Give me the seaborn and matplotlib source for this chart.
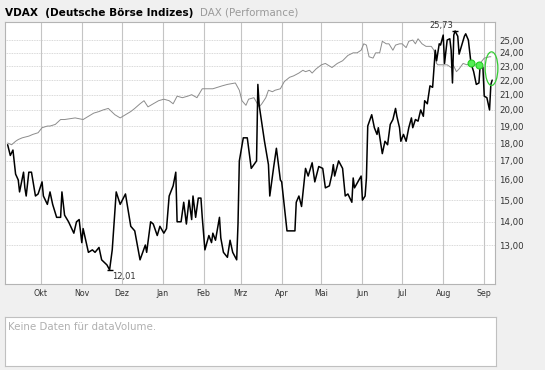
import pandas as pd
import seaborn as sns
import matplotlib.pyplot as plt
import matplotlib.dates as mdates
from matplotlib.patches import Ellipse

# VDAX Schlusskurse
vdax_dates = ['2013-09-06', '2013-09-08', '2013-09-10', '2013-09-12', '2013-09-14', '2013-09-15',
              '2013-09-18', '2013-09-19', '2013-09-20', '2013-09-22', '2013-09-24', '2013-09-27',
              '2013-09-29', '2013-10-02', '2013-10-03', '2013-10-06', '2013-10-08', '2013-10-10',
              '2013-10-13', '2013-10-16', '2013-10-17', '2013-10-19', '2013-10-22', '2013-10-26',
              '2013-10-28', '2013-10-30', '2013-11-01', '2013-11-02', '2013-11-06', '2013-11-09',
              '2013-11-11', '2013-11-14', '2013-11-16', '2013-11-20', '2013-11-22', '2013-11-24',
              '2013-11-27', '2013-11-30', '2013-12-04', '2013-12-08', '2013-12-11', '2013-12-15',
              '2013-12-19', '2013-12-20', '2013-12-23', '2013-12-25', '2013-12-28', '2013-12-30',
              '2014-01-02', '2014-01-04', '2014-01-06', '2014-01-09', '2014-01-11', '2014-01-12',
              '2014-01-15', '2014-01-17', '2014-01-19', '2014-01-21', '2014-01-23', '2014-01-24',
              '2014-01-26', '2014-01-28', '2014-01-30', '2014-01-31', '2014-02-02', '2014-02-05',
              '2014-02-07', '2014-02-08', '2014-02-10', '2014-02-13', '2014-02-14', '2014-02-16',
              '2014-02-19', '2014-02-21', '2014-02-23', '2014-02-26', '2014-02-27', '2014-02-28',
              '2014-03-03', '2014-03-06', '2014-03-09', '2014-03-13', '2014-03-14', '2014-03-15',
              '2014-03-19', '2014-03-22', '2014-03-23', '2014-03-26', '2014-03-28', '2014-03-31',
              '2014-04-01', '2014-04-05', '2014-04-11', '2014-04-12', '2014-04-14', '2014-04-16',
              '2014-04-19', '2014-04-21', '2014-04-24', '2014-04-26', '2014-04-29', '2014-05-02',
              '2014-05-04', '2014-05-07', '2014-05-09', '2014-05-10', '2014-05-11', '2014-05-14',
              '2014-05-17', '2014-05-19', '2014-05-21', '2014-05-24', '2014-05-25', '2014-05-26',
              '2014-05-31', '2014-06-01', '2014-06-03', '2014-06-04', '2014-06-05', '2014-06-08',
              '2014-06-10', '2014-06-12', '2014-06-13', '2014-06-16', '2014-06-18', '2014-06-20',
              '2014-06-22', '2014-06-24', '2014-06-26', '2014-06-27', '2014-06-29', '2014-06-30',
              '2014-07-02', '2014-07-04', '2014-07-06', '2014-07-08', '2014-07-09', '2014-07-11',
              '2014-07-13', '2014-07-15', '2014-07-17', '2014-07-18', '2014-07-20', '2014-07-22',
              '2014-07-24', '2014-07-26', '2014-07-27', '2014-07-29', '2014-07-30', '2014-08-01',
              '2014-08-02', '2014-08-04', '2014-08-06', '2014-08-07', '2014-08-08', '2014-08-09',
              '2014-08-10', '2014-08-12', '2014-08-13', '2014-08-15', '2014-08-17', '2014-08-18',
              '2014-08-20', '2014-08-22', '2014-08-24', '2014-08-26', '2014-08-28', '2014-08-29',
              '2014-08-31', '2014-09-01', '2014-09-03', '2014-09-05', '2014-09-06', '2014-09-07']
vdax_vals = [17.9, 17.3, 17.6, 16.3, 16.0, 15.4, 16.4, 15.6, 15.2, 16.4, 16.4, 15.2,
             15.3, 15.9, 15.2, 14.8, 15.4, 14.8, 14.2, 14.2, 15.4, 14.3, 14.0, 13.5,
             14.0, 14.1, 13.1, 13.7, 12.7, 12.8, 12.7, 12.9, 12.4, 12.2, 12.01, 12.8,
             15.4, 14.8, 15.3, 13.8, 13.6, 12.4, 13.0, 12.7, 14.0, 13.9, 13.4, 13.8,
             13.5, 13.7, 15.2, 15.7, 16.4, 14.0, 14.0, 14.9, 13.9, 15.0, 14.1, 15.2,
             14.2, 15.1, 15.1, 14.2, 12.8, 13.4, 13.1, 13.5, 13.2, 14.2, 13.3, 12.7,
             12.5, 13.2, 12.7, 12.4, 13.9, 17.0, 18.3, 18.3, 16.6, 17.0, 21.7, 20.3,
             18.1, 16.8, 15.2, 16.7, 17.7, 16.0, 15.9, 13.6, 13.6, 14.9, 15.2, 14.7,
             16.6, 16.2, 16.9, 15.9, 16.7, 16.6, 15.6, 15.7, 16.3, 16.8, 16.2, 17.0,
             16.6, 15.2, 15.3, 14.9, 16.1, 15.6, 16.2, 15.0, 15.2, 16.1, 19.0, 19.7,
             18.9, 18.5, 18.9, 17.4, 18.1, 17.9, 19.1, 19.4, 20.1, 19.6, 18.9, 18.1,
             18.5, 18.1, 18.9, 19.5, 18.9, 19.4, 19.3, 20.0, 19.6, 20.6, 20.4, 21.6,
             21.5, 24.2, 23.4, 24.7, 24.6, 25.4, 23.2, 25.0, 25.1, 24.2, 21.8, 25.4,
             25.73, 25.3, 23.9, 24.6, 25.3, 25.5, 25.0, 23.2, 22.6, 21.7, 21.8, 23.2,
             22.9, 20.9, 20.8, 20.0, 21.7, 22.0]

# DAX (Performance), auf VDAX-Skala eingeblendet
dax_dates = ['2013-09-06', '2013-09-09', '2013-09-12', '2013-09-14', '2013-09-17', '2013-09-22',
             '2013-09-25', '2013-09-29', '2013-10-02', '2013-10-06', '2013-10-08', '2013-10-12',
             '2013-10-16', '2013-10-19', '2013-10-27', '2013-11-02', '2013-11-06', '2013-11-10',
             '2013-11-14', '2013-11-17', '2013-11-21', '2013-11-26', '2013-11-30', '2013-12-04',
             '2013-12-08', '2013-12-11', '2013-12-15', '2013-12-18', '2013-12-21', '2013-12-25',
             '2013-12-29', '2014-01-02', '2014-01-06', '2014-01-09', '2014-01-12', '2014-01-16',
             '2014-01-20', '2014-01-23', '2014-01-27', '2014-01-31', '2014-02-04', '2014-02-08',
             '2014-02-15', '2014-02-19', '2014-02-25', '2014-02-28', '2014-03-02', '2014-03-05',
             '2014-03-07', '2014-03-11', '2014-03-15', '2014-03-17', '2014-03-20', '2014-03-22',
             '2014-03-25', '2014-03-27', '2014-03-31', '2014-04-03', '2014-04-07', '2014-04-10',
             '2014-04-14', '2014-04-17', '2014-04-19', '2014-04-22', '2014-04-24', '2014-04-27',
             '2014-05-01', '2014-05-04', '2014-05-09', '2014-05-13', '2014-05-17', '2014-05-21',
             '2014-05-25', '2014-05-28', '2014-05-31', '2014-06-02', '2014-06-04', '2014-06-06',
             '2014-06-09', '2014-06-11', '2014-06-14', '2014-06-16', '2014-06-19', '2014-06-21',
             '2014-06-24', '2014-06-26', '2014-06-29', '2014-07-01', '2014-07-04', '2014-07-06',
             '2014-07-09', '2014-07-11', '2014-07-13', '2014-07-16', '2014-07-19', '2014-07-23',
             '2014-07-25', '2014-07-27', '2014-07-28', '2014-08-01', '2014-08-04', '2014-08-07',
             '2014-08-08', '2014-08-11', '2014-08-13', '2014-08-16', '2014-08-19', '2014-08-22',
             '2014-08-25', '2014-08-28', '2014-09-01', '2014-09-05', '2014-09-06']
dax_vals = [18.0, 17.9, 18.1, 18.2, 18.3, 18.4, 18.5, 18.6, 18.9, 19.0, 19.0, 19.1,
            19.4, 19.4, 19.5, 19.4, 19.6, 19.8, 19.9, 20.0, 20.1, 19.7, 19.5, 19.7,
            19.9, 20.1, 20.4, 20.6, 20.2, 20.4, 20.6, 20.7, 20.6, 20.4, 20.9, 20.8,
            20.9, 21.0, 20.8, 21.4, 21.4, 21.4, 21.6, 21.7, 21.8, 21.3, 20.6, 20.3,
            20.7, 20.8, 20.2, 20.4, 20.8, 21.3, 21.2, 21.3, 21.4, 21.9, 22.2, 22.3,
            22.5, 22.7, 22.6, 22.7, 22.5, 22.8, 23.1, 23.2, 22.9, 23.2, 23.4, 23.8,
            24.0, 24.0, 24.2, 24.7, 24.6, 23.7, 23.6, 24.0, 24.0, 24.9, 24.7, 24.7,
            24.2, 24.6, 24.7, 24.7, 24.4, 24.9, 25.0, 24.7, 25.1, 24.7, 24.5, 24.5,
            24.2, 23.2, 23.1, 23.1, 23.1, 22.9, 23.2, 22.6, 22.8, 23.2, 23.1, 23.2,
            23.1, 23.1, 23.6, 23.7, 23.7]

signal_dates = ['2014-08-22', '2014-08-28']

y_ticks = [13, 14, 15, 16, 17, 18, 19, 20, 21, 22, 23, 24, 25]
month_labels = ['Okt', 'Nov', 'Dez', 'Jan', 'Feb', 'Mrz', 'Apr', 'Mai', 'Jun', 'Jul', 'Aug', 'Sep']

vdax = pd.DataFrame({'datum': pd.to_datetime(vdax_dates), 'wert': vdax_vals})
dax = pd.DataFrame({'datum': pd.to_datetime(dax_dates), 'wert': dax_vals})

sns.set_style('white')
plt.rcParams['font.family'] = ['DejaVu Sans']

W, H = 545, 370
fig = plt.figure(figsize=(W / 100, H / 100), dpi=100, facecolor='#f0f0f0')
ax = fig.add_axes([5 / W, 1 - 284 / H, 490 / W, 262 / H])
ax.set_facecolor('white')

sns.lineplot(data=dax, x='datum', y='wert', ax=ax, color='#8c8c8c', lw=0.7)
sns.lineplot(data=vdax, x='datum', y='wert', ax=ax, color='black', lw=1.1)

# Signale auf DAX-Linie
sig = dax[dax['datum'].isin(pd.to_datetime(signal_dates))]
ax.plot(sig['datum'], sig['wert'], 'o', ms=5, mfc='#55ee55', mec='#22cc22', mew=0.8, zorder=5)
last = dax['datum'].iloc[-1] + pd.Timedelta(hours=12)
mid = (dax['wert'].iloc[-1] + vdax['wert'].iloc[-1]) / 2
ax.add_patch(Ellipse((mdates.date2num(last), mid), 9.6, 2.45, fill=False, ec='#33cc33', lw=0.9,
                     zorder=5, clip_on=False))

# Min / Max
imin = vdax['wert'].idxmin()
imax = vdax['wert'].idxmax()
for i, dy, va, ha, dx in [(imin, -1.5, 'top', 'left', 2), (imax, 1, 'bottom', 'right', -1)]:
    ax.plot(vdax['datum'][i], vdax['wert'][i], marker='_', ms=5, mew=1, color='black')
    ax.annotate(f"{vdax['wert'][i]:.2f}".replace('.', ','), (vdax['datum'][i], vdax['wert'][i]),
                xytext=(dx, dy), textcoords='offset points', ha=ha, va=va, fontsize=6, color='#333333')

ax.set_yscale('log')
ax.set_ylim(11.48, 26.48)
ax.set_yticks(y_ticks)
ax.set_yticklabels([f'{v:.2f}'.replace('.', ',') for v in y_ticks])
ax.yaxis.set_minor_locator(plt.NullLocator())
ax.yaxis.tick_right()
ax.tick_params(axis='y', length=0, pad=3, labelsize=6.2, labelcolor='#333333')

ax.set_xlim(pd.Timestamp('2013-09-04'), pd.Timestamp('2014-09-09 03:00'))
ax.xaxis.set_major_locator(mdates.MonthLocator())
ax.set_xticks(ax.get_xticks())
ax.set_xticklabels(month_labels)
ax.tick_params(axis='x', direction='inout', length=3.6, width=0.8, color='#333333',
               pad=1.5, labelsize=5.7, labelcolor='#333333')
ax.set_xlabel('')
ax.set_ylabel('')

ax.grid(axis='x', color='#c4c4c4', lw=0.8, ls='-')
ax.grid(axis='y', color='#cccccc', lw=0.6, ls=(0, (1, 1)))
ax.set_axisbelow(True)
for s in ax.spines.values():
    s.set_color('#b4b4b4')
    s.set_linewidth(0.8)

# Titel
fig.text(5 / W, 1 - 12.5 / H, 'VDAX  (Deutsche Börse Indizes)', fontsize=7.6, fontweight='bold',
         va='center', ha='left', color='black')
fig.text(200 / W, 1 - 12.5 / H, 'DAX (Performance)', fontsize=7.4, va='center', ha='left', color='#9a9a9a')

# Volumen-Panel
ax2 = fig.add_axes([5 / W, 1 - 366 / H, 491 / W, 49 / H])
ax2.set_facecolor('white')
ax2.set_xticks([])
ax2.set_yticks([])
for s in ax2.spines.values():
    s.set_color('#c0c0c0')
    s.set_linewidth(0.8)
ax2.text(3 / 491, 1 - 10 / 49, 'Keine Daten für dataVolume.', transform=ax2.transAxes,
         fontsize=7.4, color='#b0b0b0', va='center', ha='left')

plt.savefig('out.png', dpi=100, facecolor=fig.get_facecolor())
